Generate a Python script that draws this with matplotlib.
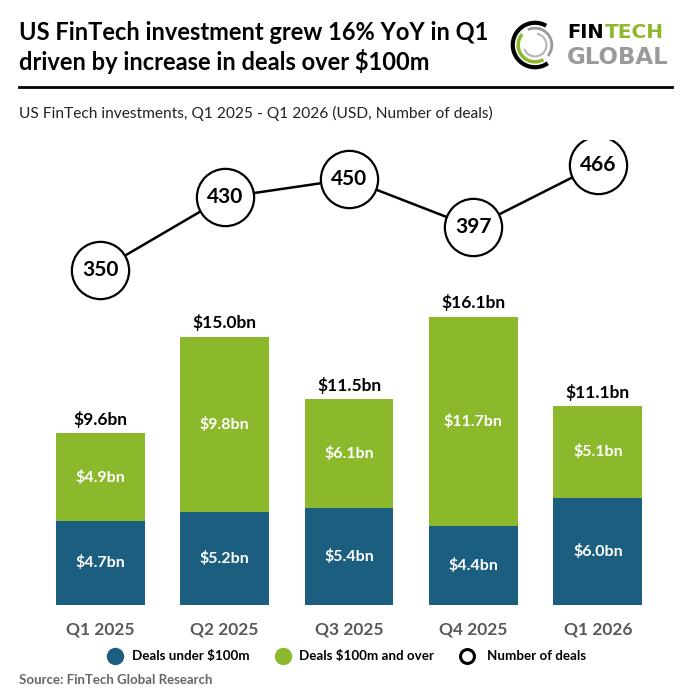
import matplotlib
matplotlib.use("Agg")
import matplotlib.pyplot as plt
from matplotlib.patches import Arc
import numpy as np

plt.rcParams['font.family'] = ['Lato', 'DejaVu Sans']

quarters = ["Q1 2025", "Q2 2025", "Q3 2025", "Q4 2025", "Q1 2026"]
under_100m = [4.7, 5.2, 5.4, 4.4, 6.0]
over_100m = [4.9, 9.8, 6.1, 11.7, 5.1]
totals = [9.6, 15.0, 11.5, 16.1, 11.1]
deal_counts = [350, 430, 450, 397, 466]

BLUE = "#1B5E80"
GREEN = "#8CB82B"
GRAY = "#595959"

W = H = 696
fig = plt.figure(figsize=(6.96, 6.96), dpi=100)

def fx(px):
    return px / W

def fy(py):
    return 1 - py / H

# Title
fig.text(fx(19), fy(33), "US FinTech investment grew 16% YoY in Q1", fontsize=17,
         fontweight='bold', va='center', ha='left', color='black')
fig.text(fx(19), fy(61), "driven by increase in deals over $100m", fontsize=17,
         fontweight='bold', va='center', ha='left', color='black')
fig.add_artist(plt.Line2D([fx(19), fx(672)], [fy(87), fy(87)], color='black', lw=2,
                          transform=fig.transFigure))
fig.text(fx(19), fy(113), "US FinTech investments, Q1 2025 - Q1 2026 (USD, Number of deals)",
         fontsize=11.2, va='center', ha='left', color='#222222')

# Logo
logo_ax = fig.add_axes([fx(510), fy(71), fx(50), fx(52)])
logo_ax.set_xlim(-1.04, 1.04)
logo_ax.set_ylim(-1.08, 1.08)
logo_ax.set_aspect('equal')
logo_ax.axis('off')
logo_ax.add_patch(Arc((0, 0), 1.85, 1.85, theta1=60, theta2=305, color='black', lw=3))
logo_ax.add_patch(Arc((0, 0), 1.4, 1.4, theta1=140, theta2=300, color=GREEN, lw=2.5))
logo_ax.add_patch(Arc((0, 0), 1.4, 1.4, theta1=320, theta2=115, color='#9A9A9A', lw=2))
logo_ax.add_patch(Arc((0, 0), 0.95, 0.95, theta1=200, theta2=80, color='#B5B5B5', lw=1.5))
logo_font = ['DejaVu Sans']
fig.text(fx(567), fy(37.5), "FIN", fontsize=14, fontweight='bold', color='black',
         va='baseline', ha='left', family=logo_font)
fig.text(fx(605), fy(37.5), "TECH", fontsize=14.5, fontweight='bold', color=GREEN,
         va='baseline', ha='left', family=logo_font)
fig.text(fx(567), fy(64), "GLOBAL", fontsize=16.5, fontweight='bold', color='#9A9A9A',
         va='baseline', ha='left', family=logo_font)

# Chart axes
base_px = 605
top_px = 140
left_px = 38
right_px = 660
rect = [fx(left_px), fy(base_px), fx(right_px - left_px), (base_px - top_px) / H]
ax = fig.add_axes(rect)
x = np.arange(len(quarters))
ax.set_xlim(-0.5, len(quarters) - 0.5)
ax.set_ylim(0, (base_px - top_px) / 17.9)
bar_w = 0.715
ax.bar(x, under_100m, width=bar_w, color=BLUE)
ax.bar(x, over_100m, width=bar_w, bottom=under_100m, color=GREEN)
for i in range(len(quarters)):
    ax.text(x[i], under_100m[i] / 2, f"${under_100m[i]:.1f}bn", color='white',
            fontsize=11.5, fontweight='bold', ha='center', va='center')
    ax.text(x[i], under_100m[i] + over_100m[i] / 2, f"${over_100m[i]:.1f}bn", color='white',
            fontsize=11.5, fontweight='bold', ha='center', va='center')
    ax.text(x[i], totals[i] + 0.3, f"${totals[i]:.1f}bn", color='black',
            fontsize=12.5, fontweight='bold', ha='center', va='bottom')
ax.set_xticks(x)
ax.set_xticklabels(quarters, fontsize=12.5, fontweight='bold', color=GRAY)
ax.tick_params(axis='x', length=0, pad=12)
ax.set_yticks([])
for s in ax.spines.values():
    s.set_visible(False)
ax.patch.set_alpha(0)

# Line axes
lax = fig.add_axes(rect)
lax.set_xlim(-0.5, len(quarters) - 0.5)
lax.set_ylim(-18, -18 + (base_px - top_px) / 0.91)
lax.plot(x, deal_counts, color='black', lw=1.8, zorder=1)
lax.scatter(x, deal_counts, s=1700, facecolor='white', edgecolor='black', linewidth=1.6, zorder=2)
for i in range(len(quarters)):
    lax.text(x[i], deal_counts[i], str(deal_counts[i]), fontsize=15, fontweight='bold',
             ha='center', va='center', zorder=3)
lax.axis('off')

# Legend
ly = fy(656)
fig.add_artist(plt.Line2D([fx(115)], [ly], marker='o', markersize=11.5, color=BLUE,
                          transform=fig.transFigure, linestyle='none'))
fig.text(fx(132), ly, "Deals under $100m", fontsize=9.6, fontweight='bold', va='center', ha='left')
fig.add_artist(plt.Line2D([fx(283)], [ly], marker='o', markersize=11.5, color=GREEN,
                          transform=fig.transFigure, linestyle='none'))
fig.text(fx(299), ly, "Deals $100m and over", fontsize=9.6, fontweight='bold', va='center', ha='left')
fig.add_artist(plt.Line2D([fx(467)], [ly], marker='o', markersize=10, markerfacecolor='white',
                          markeredgecolor='black', markeredgewidth=2.2,
                          transform=fig.transFigure, linestyle='none'))
fig.text(fx(487), ly, "Number of deals", fontsize=9.6, fontweight='bold', va='center', ha='left')

fig.text(fx(19), fy(680), "Source: FinTech Global Research", fontsize=9.5, fontweight='bold',
         color='#666666', va='center', ha='left')

fig.savefig("out.png", dpi=100)
